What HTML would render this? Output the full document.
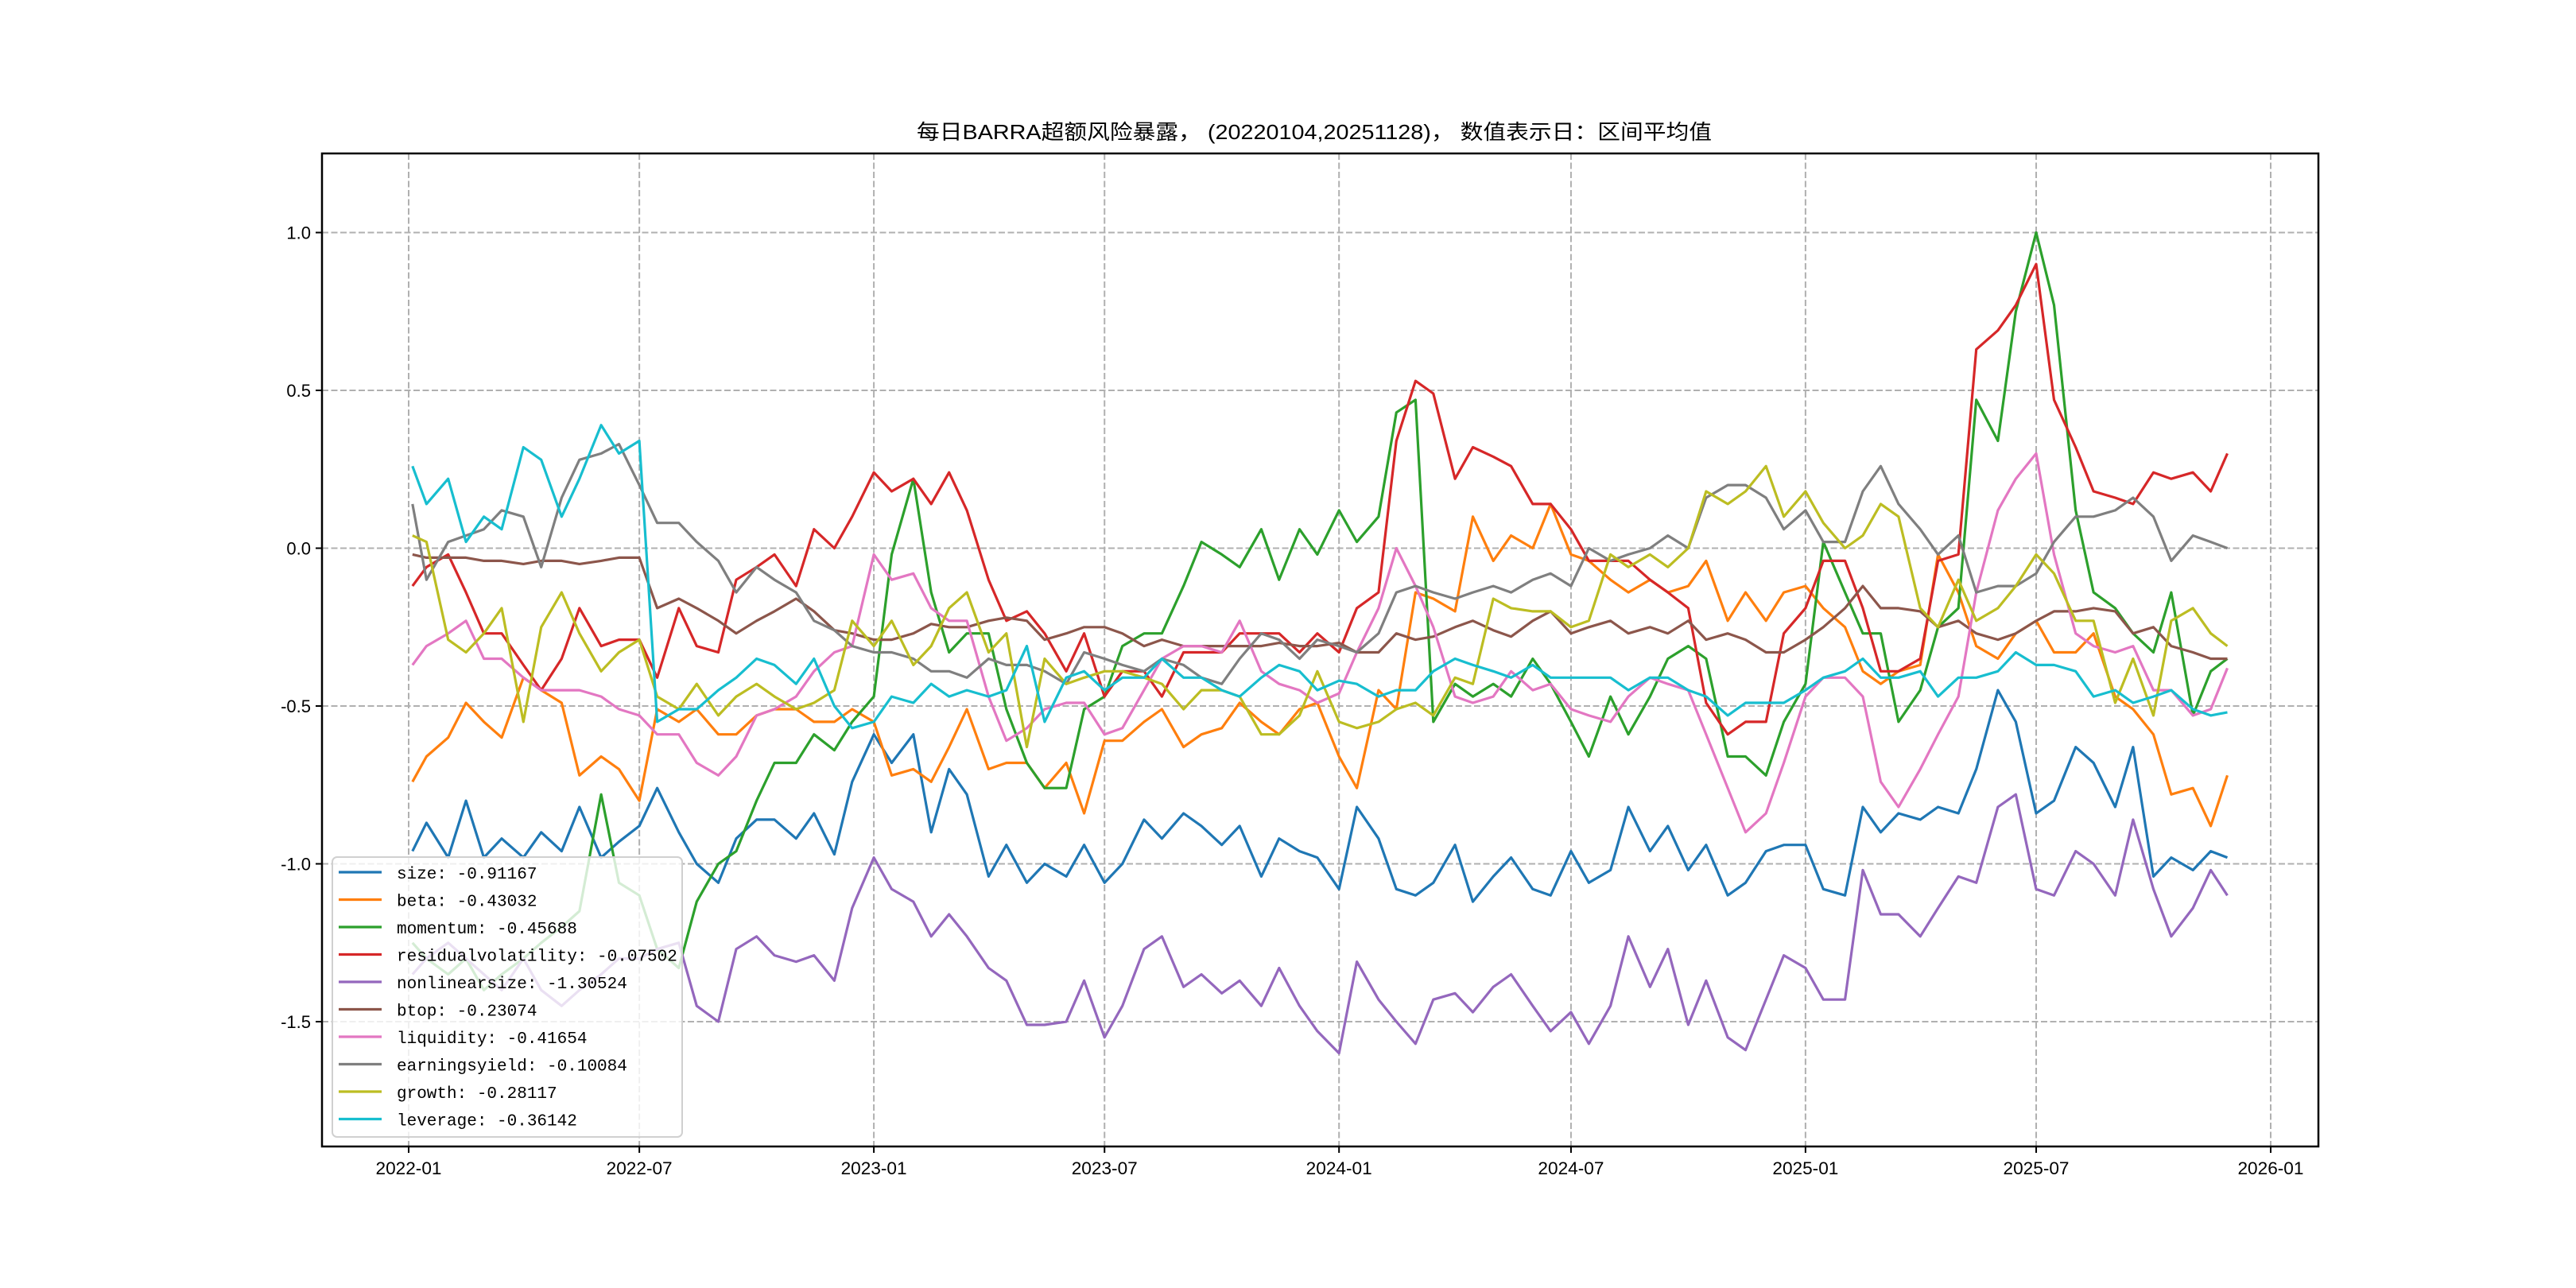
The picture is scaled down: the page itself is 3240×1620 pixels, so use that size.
<!DOCTYPE html>
<html><head><meta charset="utf-8"><style>
html,body{margin:0;padding:0;background:#fff;}
svg{display:block;}
</style></head><body>
<svg id="chart" width="3240" height="1620" viewBox="0 0 3240 1620" xmlns="http://www.w3.org/2000/svg" font-family="'Liberation Sans','Noto Sans CJK SC',sans-serif">
<rect x="0" y="0" width="3240" height="1620" fill="#fff"/>
<text x="1653" y="175" font-size="26" text-anchor="middle" textLength="1000" lengthAdjust="spacingAndGlyphs" font-family="'Liberation Sans','Noto Sans CJK SC',sans-serif">每日BARRA超额风险暴露， (20220104,20251128)，  数值表示日：区间平均值</text>
<g id="grid"></g>
<g id="series"></g>
<g id="axes"></g>
<g id="legend"></g>
</svg>
<script>
const dates = ["2022-01-04","2022-01-15","2022-02-01","2022-02-15","2022-03-01","2022-03-15","2022-04-01","2022-04-15","2022-05-01","2022-05-15","2022-06-01","2022-06-15","2022-07-01","2022-07-15","2022-08-01","2022-08-15","2022-09-01","2022-09-15","2022-10-01","2022-10-15","2022-11-01","2022-11-15","2022-12-01","2022-12-15",
"2023-01-01","2023-01-15","2023-02-01","2023-02-15","2023-03-01","2023-03-15","2023-04-01","2023-04-15","2023-05-01","2023-05-15","2023-06-01","2023-06-15","2023-07-01","2023-07-15","2023-08-01","2023-08-15","2023-09-01","2023-09-15","2023-10-01","2023-10-15","2023-11-01","2023-11-15","2023-12-01","2023-12-15",
"2024-01-01","2024-01-15","2024-02-01","2024-02-15","2024-03-01","2024-03-15","2024-04-01","2024-04-15","2024-05-01","2024-05-15","2024-06-01","2024-06-15","2024-07-01","2024-07-15","2024-08-01","2024-08-15","2024-09-01","2024-09-15","2024-10-01","2024-10-15","2024-11-01","2024-11-15","2024-12-01","2024-12-15",
"2025-01-01","2025-01-15","2025-02-01","2025-02-15","2025-03-01","2025-03-15","2025-04-01","2025-04-15","2025-05-01","2025-05-15","2025-06-01","2025-06-15","2025-07-01","2025-07-15","2025-08-01","2025-08-15","2025-09-01","2025-09-15","2025-10-01","2025-10-15","2025-11-01","2025-11-15","2025-11-28"];

const sizeVals = [-0.96,-0.87,-0.98,-0.8,-0.98,-0.92,-0.98,-0.9,-0.96,-0.82,-0.98,-0.93,-0.88,-0.76,-0.9,-1.0,-1.06,-0.92,-0.86,-0.86,-0.92,-0.84,-0.97,-0.74,
-0.59,-0.68,-0.59,-0.9,-0.7,-0.78,-1.04,-0.94,-1.06,-1.0,-1.04,-0.94,-1.06,-1.0,-0.86,-0.92,-0.84,-0.88,-0.94,-0.88,-1.04,-0.92,-0.96,-0.98,
-1.08,-0.82,-0.92,-1.08,-1.1,-1.06,-0.94,-1.12,-1.04,-0.98,-1.08,-1.1,-0.96,-1.06,-1.02,-0.82,-0.96,-0.88,-1.02,-0.94,-1.1,-1.06,-0.96,-0.94,
-0.94,-1.08,-1.1,-0.82,-0.9,-0.84,-0.86,-0.82,-0.84,-0.7,-0.45,-0.55,-0.84,-0.8,-0.63,-0.68,-0.82,-0.63,-1.04,-0.98,-1.02,-0.96,-0.98];
const betaVals = [-0.74,-0.66,-0.6,-0.49,-0.55,-0.6,-0.41,-0.45,-0.49,-0.72,-0.66,-0.7,-0.8,-0.51,-0.55,-0.51,-0.59,-0.59,-0.53,-0.51,-0.51,-0.55,-0.55,-0.51,
-0.55,-0.72,-0.7,-0.74,-0.63,-0.51,-0.7,-0.68,-0.68,-0.76,-0.68,-0.84,-0.61,-0.61,-0.55,-0.51,-0.63,-0.59,-0.57,-0.49,-0.55,-0.59,-0.51,-0.49,
-0.66,-0.76,-0.45,-0.51,-0.14,-0.16,-0.2,0.1,-0.04,0.04,0.0,0.14,-0.02,-0.04,-0.1,-0.14,-0.1,-0.14,-0.12,-0.04,-0.23,-0.14,-0.23,-0.14,
-0.12,-0.19,-0.25,-0.39,-0.43,-0.39,-0.37,-0.02,-0.14,-0.31,-0.35,-0.27,-0.23,-0.33,-0.33,-0.27,-0.47,-0.51,-0.59,-0.78,-0.76,-0.88,-0.72];
const momentumVals = [-1.25,-1.3,-1.35,-1.3,-1.4,-1.35,-1.3,-1.25,-1.2,-1.15,-0.78,-1.06,-1.1,-1.27,-1.33,-1.12,-1.0,-0.96,-0.8,-0.68,-0.68,-0.59,-0.64,-0.55,
-0.47,-0.02,0.22,-0.14,-0.33,-0.27,-0.27,-0.51,-0.68,-0.76,-0.76,-0.51,-0.47,-0.31,-0.27,-0.27,-0.12,0.02,-0.02,-0.06,0.06,-0.1,0.06,-0.02,
0.12,0.02,0.1,0.43,0.47,-0.55,-0.43,-0.47,-0.43,-0.47,-0.35,-0.43,-0.55,-0.66,-0.47,-0.59,-0.47,-0.35,-0.31,-0.35,-0.66,-0.66,-0.72,-0.55,
-0.43,0.02,-0.14,-0.27,-0.27,-0.55,-0.45,-0.25,-0.19,0.47,0.34,0.75,1.0,0.77,0.12,-0.14,-0.19,-0.27,-0.33,-0.14,-0.53,-0.39,-0.35];
const resvolVals = [-0.12,-0.06,-0.02,-0.14,-0.27,-0.27,-0.37,-0.45,-0.35,-0.19,-0.31,-0.29,-0.29,-0.41,-0.19,-0.31,-0.33,-0.1,-0.06,-0.02,-0.12,0.06,0.0,0.1,
0.24,0.18,0.22,0.14,0.24,0.12,-0.1,-0.23,-0.2,-0.27,-0.39,-0.27,-0.47,-0.39,-0.39,-0.47,-0.33,-0.33,-0.33,-0.27,-0.27,-0.27,-0.33,-0.27,
-0.33,-0.19,-0.14,0.34,0.53,0.49,0.22,0.32,0.29,0.26,0.14,0.14,0.06,-0.04,-0.04,-0.04,-0.1,-0.14,-0.19,-0.49,-0.59,-0.55,-0.55,-0.27,
-0.19,-0.04,-0.04,-0.19,-0.39,-0.39,-0.35,-0.04,-0.02,0.63,0.69,0.77,0.9,0.47,0.32,0.18,0.16,0.14,0.24,0.22,0.24,0.18,0.3];
const nlsizeVals = [-1.35,-1.3,-1.25,-1.3,-1.35,-1.4,-1.3,-1.4,-1.45,-1.4,-1.35,-1.3,-1.3,-1.27,-1.25,-1.45,-1.5,-1.27,-1.23,-1.29,-1.31,-1.29,-1.37,-1.14,
-0.98,-1.08,-1.12,-1.23,-1.16,-1.23,-1.33,-1.37,-1.51,-1.51,-1.5,-1.37,-1.55,-1.45,-1.27,-1.23,-1.39,-1.35,-1.41,-1.37,-1.45,-1.33,-1.45,-1.53,
-1.6,-1.31,-1.43,-1.5,-1.57,-1.43,-1.41,-1.47,-1.39,-1.35,-1.45,-1.53,-1.47,-1.57,-1.45,-1.23,-1.39,-1.27,-1.51,-1.37,-1.55,-1.59,-1.43,-1.29,
-1.33,-1.43,-1.43,-1.02,-1.16,-1.16,-1.23,-1.14,-1.04,-1.06,-0.82,-0.78,-1.08,-1.1,-0.96,-1.0,-1.1,-0.86,-1.08,-1.23,-1.14,-1.02,-1.1];
const btopVals = [-0.02,-0.03,-0.03,-0.03,-0.04,-0.04,-0.05,-0.04,-0.04,-0.05,-0.04,-0.03,-0.03,-0.19,-0.16,-0.19,-0.23,-0.27,-0.23,-0.2,-0.16,-0.2,-0.26,-0.27,
-0.29,-0.29,-0.27,-0.24,-0.25,-0.25,-0.23,-0.22,-0.23,-0.29,-0.27,-0.25,-0.25,-0.27,-0.31,-0.29,-0.31,-0.31,-0.31,-0.31,-0.31,-0.3,-0.31,-0.31,
-0.3,-0.33,-0.33,-0.27,-0.29,-0.28,-0.25,-0.23,-0.26,-0.28,-0.23,-0.2,-0.27,-0.25,-0.23,-0.27,-0.25,-0.27,-0.23,-0.29,-0.27,-0.29,-0.33,-0.33,
-0.29,-0.25,-0.19,-0.12,-0.19,-0.19,-0.2,-0.25,-0.23,-0.27,-0.29,-0.27,-0.23,-0.2,-0.2,-0.19,-0.2,-0.27,-0.25,-0.31,-0.33,-0.35,-0.35];
const liquidityVals = [-0.37,-0.31,-0.27,-0.23,-0.35,-0.35,-0.41,-0.45,-0.45,-0.45,-0.47,-0.51,-0.53,-0.59,-0.59,-0.68,-0.72,-0.66,-0.53,-0.51,-0.47,-0.39,-0.33,-0.31,
-0.02,-0.1,-0.08,-0.19,-0.23,-0.23,-0.47,-0.61,-0.57,-0.51,-0.49,-0.49,-0.59,-0.57,-0.45,-0.35,-0.31,-0.31,-0.33,-0.23,-0.39,-0.43,-0.45,-0.49,
-0.46,-0.33,-0.19,0.0,-0.12,-0.25,-0.47,-0.49,-0.47,-0.39,-0.45,-0.43,-0.51,-0.53,-0.55,-0.47,-0.41,-0.43,-0.45,-0.59,-0.76,-0.9,-0.84,-0.68,
-0.47,-0.41,-0.41,-0.47,-0.74,-0.82,-0.7,-0.59,-0.47,-0.14,0.12,0.22,0.3,-0.02,-0.27,-0.31,-0.33,-0.31,-0.45,-0.45,-0.53,-0.51,-0.38];
const eyieldVals = [0.14,-0.1,0.02,0.04,0.06,0.12,0.1,-0.06,0.16,0.28,0.3,0.33,0.2,0.08,0.08,0.02,-0.04,-0.14,-0.06,-0.1,-0.14,-0.23,-0.26,-0.31,
-0.33,-0.33,-0.35,-0.39,-0.39,-0.41,-0.35,-0.37,-0.37,-0.39,-0.43,-0.33,-0.35,-0.37,-0.39,-0.35,-0.37,-0.41,-0.43,-0.35,-0.27,-0.29,-0.35,-0.29,
-0.31,-0.33,-0.27,-0.14,-0.12,-0.14,-0.16,-0.14,-0.12,-0.14,-0.1,-0.08,-0.12,0.0,-0.04,-0.02,0.0,0.04,0.0,0.16,0.2,0.2,0.16,0.06,
0.12,0.02,0.02,0.18,0.26,0.14,0.06,-0.02,0.04,-0.14,-0.12,-0.12,-0.08,0.02,0.1,0.1,0.12,0.16,0.1,-0.04,0.04,0.02,0.0];
const growthVals = [0.04,0.02,-0.29,-0.33,-0.27,-0.19,-0.55,-0.25,-0.14,-0.27,-0.39,-0.33,-0.29,-0.47,-0.51,-0.43,-0.53,-0.47,-0.43,-0.47,-0.51,-0.49,-0.45,-0.23,
-0.31,-0.23,-0.37,-0.31,-0.19,-0.14,-0.33,-0.27,-0.63,-0.35,-0.43,-0.41,-0.39,-0.39,-0.41,-0.43,-0.51,-0.45,-0.45,-0.47,-0.59,-0.59,-0.53,-0.39,
-0.55,-0.57,-0.55,-0.51,-0.49,-0.53,-0.41,-0.43,-0.16,-0.19,-0.2,-0.2,-0.25,-0.23,-0.02,-0.06,-0.02,-0.06,0.0,0.18,0.14,0.18,0.26,0.1,
0.18,0.08,0.0,0.04,0.14,0.1,-0.19,-0.25,-0.1,-0.23,-0.19,-0.12,-0.02,-0.08,-0.23,-0.23,-0.49,-0.35,-0.53,-0.23,-0.19,-0.27,-0.31];
const leverageVals = [0.26,0.14,0.22,0.02,0.1,0.06,0.32,0.28,0.1,0.22,0.39,0.3,0.34,-0.55,-0.51,-0.51,-0.45,-0.41,-0.35,-0.37,-0.43,-0.35,-0.5,-0.57,
-0.55,-0.47,-0.49,-0.43,-0.47,-0.45,-0.47,-0.45,-0.31,-0.55,-0.41,-0.39,-0.45,-0.41,-0.41,-0.35,-0.41,-0.41,-0.45,-0.47,-0.41,-0.37,-0.39,-0.45,
-0.42,-0.43,-0.47,-0.45,-0.45,-0.39,-0.35,-0.37,-0.39,-0.41,-0.37,-0.41,-0.41,-0.41,-0.41,-0.45,-0.41,-0.41,-0.45,-0.47,-0.53,-0.49,-0.49,-0.49,
-0.45,-0.41,-0.39,-0.35,-0.41,-0.41,-0.39,-0.47,-0.41,-0.41,-0.39,-0.33,-0.37,-0.37,-0.39,-0.47,-0.45,-0.49,-0.47,-0.45,-0.51,-0.53,-0.52];

const seriesNames = ["size","beta","momentum","residualvolatility","nonlinearsize","btop","liquidity","earningsyield","growth","leverage"];
const legendValues = ["-0.91167","-0.43032","-0.45688","-0.07502","-1.30524","-0.23074","-0.41654","-0.10084","-0.28117","-0.36142"];
const seriesColors = ["#1f77b4","#ff7f0e","#2ca02c","#d62728","#9467bd","#8c564b","#e377c2","#7f7f7f","#bcbd22","#17becf"];
const seriesData = [sizeVals,betaVals,momentumVals,resvolVals,nlsizeVals,btopVals,liquidityVals,eyieldVals,growthVals,leverageVals];
const yTicks = [-1.5,-1.0,-0.5,0.0,0.5,1.0];
const xTicks = ["2022-01","2022-07","2023-01","2023-07","2024-01","2024-07","2025-01","2025-07","2026-01"];

const NS = "http://www.w3.org/2000/svg";
const L = 405, R = 2916, T = 193, B = 1442;
const T0 = Date.UTC(2022,0,1);
function xScale(d){ const p=d.split("-").map(Number); const t=Date.UTC(p[0],p[1]-1,p[2]||1); return 514 + (t-T0)/86400000*1.603; }
function yScale(v){ return 689.5 - 397*v; }
function mk(tag, attrs, parent){ const e=document.createElementNS(NS,tag); for(const k in attrs) e.setAttribute(k,attrs[k]); parent.appendChild(e); return e; }

const grid=document.getElementById("grid"), ser=document.getElementById("series"), axes=document.getElementById("axes"), leg=document.getElementById("legend");

yTicks.forEach(v=>{
  const y=yScale(v);
  const g=mk("line",{x1:L,x2:R,y1:y,y2:y,stroke:"#b0b0b0","stroke-width":2,"stroke-dasharray":"8,3.5"},grid);
  
  
  const t=mk("line",{x1:L-8,x2:L,y1:y,y2:y,stroke:"#000","stroke-width":2},axes);
  
  
  const lb=mk("text",{x:L-14,y:y+8,"font-size":22,"text-anchor":"end",fill:"#000"},axes);
  lb.textContent=v.toFixed(1);
  
  
});
xTicks.forEach(d=>{
  const x=xScale(d);
  const g=mk("line",{x1:x,x2:x,y1:T,y2:B,stroke:"#b0b0b0","stroke-width":2,"stroke-dasharray":"8,3.5"},grid);
  
  
  const t=mk("line",{x1:x,x2:x,y1:B,y2:B+8,stroke:"#000","stroke-width":2},axes);
  
  
  const lb=mk("text",{x:x,y:B+35,"font-size":22,"text-anchor":"middle",textLength:83,lengthAdjust:"spacingAndGlyphs",fill:"#000"},axes);
  lb.textContent=d;
  
  
});
const frame=mk("rect",{x:L,y:T,width:R-L,height:B-T,fill:"none",stroke:"#000","stroke-width":2.5},axes);



seriesData.forEach((vals,i)=>{
  const pts=vals.map((v,j)=>xScale(dates[j]).toFixed(1)+","+yScale(v).toFixed(1)).join(" ");
  const pl=mk("polyline",{points:pts,fill:"none",stroke:seriesColors[i],"stroke-width":3.2,"stroke-linejoin":"round"},ser);
  
  
});

const box=mk("rect",{x:418,y:1078,width:440,height:352,rx:6,fill:"rgba(255,255,255,0.8)",stroke:"#d0d0d0","stroke-width":2},leg);


seriesNames.forEach((n,i)=>{
  const y=1097+i*34.5;
  const ln=mk("line",{x1:426,x2:480,y1:y,y2:y,stroke:seriesColors[i],"stroke-width":3.2},leg);
  
  
  const s=n+": "+legendValues[i];
  const tx=mk("text",{x:499,y:y+8,"font-size":21,"font-family":"'Liberation Mono',monospace",fill:"#000"},leg);
  tx.textContent=s;
  
  
});
</script>
</body></html>
